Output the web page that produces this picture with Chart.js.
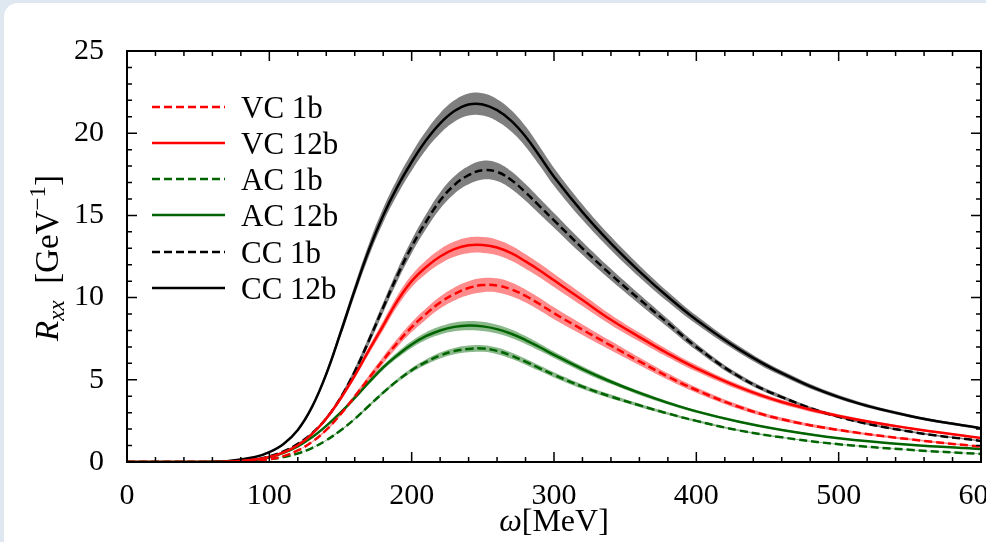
<!DOCTYPE html>
<html>
<head>
<meta charset="utf-8">
<script src="https://cdn.jsdelivr.net/npm/chart.js@4.4.1/dist/chart.umd.min.js"></script>
<style>
  html, body { margin: 0; padding: 0; background: #dfe7f1; overflow: hidden; }
  #panel { position: absolute; left: 4px; top: 3px; width: 1000px; height: 560px; background: #fff; border-radius: 14px; }
  #myChart { position: absolute; left: 0; top: 0; }
</style>
</head>
<body>
<div id="panel"></div>
<canvas id="myChart" width="986" height="542"></canvas>
<script>
// omega grid [MeV]
const omega = [0, 40, 70, 90, 100, 110, 120, 130, 140, 150, 160, 170, 180, 190, 200, 210, 220, 230, 240, 250, 260, 270, 280, 290, 300, 320, 340, 360, 380, 400, 430, 460, 500, 550, 600];

const vc1b = [0, 0, 0.01, 0.08, 0.17, 0.36, 0.7, 1.22, 1.95, 2.9, 3.98, 5.1, 6.2, 7.25, 8.2, 9.0, 9.7, 10.22, 10.58, 10.76, 10.74, 10.5, 10.1, 9.6, 9.05, 8.05, 7.08, 6.12, 5.2, 4.38, 3.35, 2.6, 1.95, 1.38, 0.93];
const vc12b = [0, 0, 0.02, 0.15, 0.3, 0.58, 1.02, 1.7, 2.65, 3.85, 5.25, 6.8, 8.3, 9.8, 11.0, 11.85, 12.5, 12.95, 13.18, 13.2, 13.05, 12.7, 12.2, 11.65, 11.05, 9.85, 8.65, 7.6, 6.6, 5.7, 4.55, 3.65, 2.8, 2.05, 1.46];
const ac1b = [0, 0, 0.01, 0.07, 0.16, 0.3, 0.52, 0.85, 1.32, 1.92, 2.62, 3.42, 4.22, 4.95, 5.58, 6.08, 6.48, 6.75, 6.88, 6.9, 6.76, 6.47, 6.1, 5.7, 5.3, 4.58, 3.98, 3.45, 2.95, 2.5, 1.92, 1.5, 1.08, 0.74, 0.49];
const ac12b = [0, 0, 0.01, 0.12, 0.28, 0.55, 0.95, 1.5, 2.2, 3.0, 3.9, 4.85, 5.75, 6.5, 7.15, 7.65, 8.0, 8.22, 8.3, 8.25, 8.08, 7.8, 7.42, 6.98, 6.52, 5.65, 4.88, 4.2, 3.6, 3.08, 2.45, 1.95, 1.45, 1.05, 0.79];
const cc1b = [0, 0, 0.02, 0.15, 0.35, 0.65, 1.1, 1.75, 2.65, 3.9, 5.5, 7.4, 9.4, 11.35, 13.1, 14.6, 15.9, 16.85, 17.45, 17.75, 17.65, 17.15, 16.4, 15.55, 14.7, 13.0, 11.4, 9.9, 8.45, 7.0, 5.2, 3.95, 2.75, 1.85, 1.28];
const cc12b = [0, 0, 0.05, 0.3, 0.6, 1.1, 1.95, 3.35, 5.35, 7.85, 10.45, 12.9, 15.0, 16.75, 18.25, 19.55, 20.6, 21.35, 21.75, 21.75, 21.4, 20.75, 19.8, 18.6, 17.35, 15.2, 13.3, 11.6, 10.05, 8.65, 6.85, 5.4, 3.95, 2.8, 2.05];

// half widths of the uncertainty bands
const vc1bErr = [0, 0, 0, 0, 0.01, 0.01, 0.02, 0.04, 0.07, 0.1, 0.14, 0.18, 0.22, 0.26, 0.3, 0.34, 0.37, 0.4, 0.42, 0.43, 0.43, 0.42, 0.4, 0.38, 0.36, 0.32, 0.28, 0.24, 0.2, 0.17, 0.13, 0.1, 0.08, 0.06, 0.04];
const vc12bErr = [0, 0, 0, 0.01, 0.01, 0.02, 0.04, 0.06, 0.09, 0.13, 0.17, 0.22, 0.28, 0.33, 0.37, 0.41, 0.44, 0.46, 0.48, 0.48, 0.47, 0.46, 0.44, 0.42, 0.4, 0.36, 0.31, 0.27, 0.23, 0.2, 0.16, 0.13, 0.1, 0.07, 0.05];
const ac1bErr = [0, 0, 0, 0, 0, 0.01, 0.01, 0.02, 0.03, 0.04, 0.06, 0.08, 0.1, 0.12, 0.14, 0.16, 0.18, 0.19, 0.2, 0.2, 0.2, 0.19, 0.18, 0.17, 0.16, 0.14, 0.12, 0.1, 0.08, 0.07, 0.05, 0.04, 0.03, 0.02, 0.02];
const ac12bErr = [0, 0, 0, 0, 0.01, 0.01, 0.02, 0.03, 0.05, 0.07, 0.09, 0.12, 0.15, 0.18, 0.21, 0.23, 0.25, 0.27, 0.28, 0.28, 0.27, 0.26, 0.24, 0.22, 0.2, 0.17, 0.14, 0.12, 0.1, 0.08, 0.06, 0.05, 0.04, 0.03, 0.02];
const cc1bErr = [0, 0, 0, 0.01, 0.01, 0.02, 0.04, 0.07, 0.11, 0.15, 0.2, 0.25, 0.3, 0.35, 0.4, 0.45, 0.5, 0.53, 0.56, 0.57, 0.56, 0.54, 0.51, 0.48, 0.45, 0.4, 0.35, 0.3, 0.25, 0.2, 0.15, 0.11, 0.08, 0.06, 0.04];
const cc12bErr = [0, 0, 0, 0.01, 0.03, 0.05, 0.08, 0.12, 0.18, 0.25, 0.32, 0.38, 0.43, 0.48, 0.53, 0.57, 0.62, 0.65, 0.67, 0.68, 0.67, 0.65, 0.62, 0.58, 0.54, 0.47, 0.41, 0.36, 0.31, 0.26, 0.2, 0.16, 0.12, 0.09, 0.07];

const xTickValues = [0, 100, 200, 300, 400, 500, 600];
const yTickValues = [0, 5, 10, 15, 20, 25];

const serif = "'Liberation Serif', 'DejaVu Serif', serif";

const series = [
  { label: "VC 1b", data: vc1b, err: vc1bErr, color: "#ff0000", band: "rgba(255,0,0,0.45)", dashed: true },
  { label: "VC 12b", data: vc12b, err: vc12bErr, color: "#ff0000", band: "rgba(255,0,0,0.45)", dashed: false },
  { label: "AC 1b", data: ac1b, err: ac1bErr, color: "#006400", band: "rgba(0,100,0,0.45)", dashed: true },
  { label: "AC 12b", data: ac12b, err: ac12bErr, color: "#006400", band: "rgba(0,100,0,0.45)", dashed: false },
  { label: "CC 1b", data: cc1b, err: cc1bErr, color: "#000000", band: "rgba(0,0,0,0.5)", dashed: true },
  { label: "CC 12b", data: cc12b, err: cc12bErr, color: "#000000", band: "rgba(0,0,0,0.5)", dashed: false },
];

const pts = (arr) => omega.map((x, i) => ({ x: x, y: arr[i] }));

let datasets = [];
// lines first (drawn on top)
series.forEach((s) => {
  datasets.push({
    label: s.label,
    data: pts(s.data),
    borderColor: s.color,
    borderWidth: 2.5,
    borderDash: s.dashed ? [8, 4] : [],
    pointRadius: 0,
    fill: false,
    tension: 0.4,
    isLine: true,
  });
});
// bands: lower then upper filled to lower
series.forEach((s) => {
  datasets.push({
    label: s.label + " lo",
    data: omega.map((x, i) => ({ x: x, y: s.data[i] - s.err[i] })),
    borderWidth: 0,
    pointRadius: 0,
    fill: false,
    tension: 0.4,
  });
  datasets.push({
    label: s.label + " hi",
    data: omega.map((x, i) => ({ x: x, y: s.data[i] + s.err[i] })),
    borderWidth: 0,
    pointRadius: 0,
    backgroundColor: s.band,
    fill: "-1",
    tension: 0.4,
  });
});

const framePlugin = {
  id: "frame",
  afterDraw(chart) {
    const ctx = chart.ctx;
    const a = chart.chartArea;
    const xs = chart.scales.x;
    const ys = chart.scales.y;
    ctx.save();
    ctx.strokeStyle = "#000";
    ctx.lineWidth = 2;
    ctx.strokeRect(a.left, a.top, a.right - a.left, a.bottom - a.top);

    // inward ticks on all four sides
    ctx.lineWidth = 1.5;
    ctx.beginPath();
    for (let v = 0; v <= 600; v += 20) {
      const px = xs.getPixelForValue(v);
      const len = v % 100 === 0 ? 10 : 5;
      ctx.moveTo(px, a.bottom);
      ctx.lineTo(px, a.bottom - len);
      ctx.moveTo(px, a.top);
      ctx.lineTo(px, a.top + len);
    }
    for (let v = 0; v <= 25; v += 1) {
      const py = ys.getPixelForValue(v);
      const len = v % 5 === 0 ? 10 : 5;
      ctx.moveTo(a.left, py);
      ctx.lineTo(a.left + len, py);
      ctx.moveTo(a.right, py);
      ctx.lineTo(a.right - len, py);
    }
    ctx.stroke();

    // legend
    const rowY = [107, 143, 179, 215, 252, 288];
    chart.data.datasets.filter((d) => d.isLine).forEach((d, i) => {
      const y = rowY[i];
      ctx.strokeStyle = d.borderColor;
      ctx.lineWidth = 2.5;
      ctx.setLineDash(d.borderDash);
      ctx.beginPath();
      ctx.moveTo(152, y);
      ctx.lineTo(225, y);
      ctx.stroke();
      ctx.setLineDash([]);
      ctx.fillStyle = "#000";
      ctx.font = "31px " + serif;
      ctx.textBaseline = "alphabetic";
      ctx.textAlign = "left";
      ctx.fillText(d.label, 241, y + 11);
    });

    // y title: R_xx [GeV^-1]
    ctx.save();
    ctx.translate(58, 258);
    ctx.rotate(-Math.PI / 2);
    const parts = [
      { t: "R", f: "italic 33px " + serif, dy: 0 },
      { t: "xx", f: "italic 23px " + serif, dy: 6 },
      { t: "  [GeV", f: "33px " + serif, dy: 0 },
      { t: "\u22121", f: "23px " + serif, dy: -13 },
      { t: "]", f: "33px " + serif, dy: 0 },
    ];
    let total = 0;
    parts.forEach((p) => { ctx.font = p.f; p.w = ctx.measureText(p.t).width; total += p.w; });
    let cx = -total / 2;
    ctx.fillStyle = "#000";
    ctx.textBaseline = "alphabetic";
    ctx.textAlign = "left";
    parts.forEach((p) => { ctx.font = p.f; ctx.fillText(p.t, cx, p.dy); cx += p.w; });
    ctx.restore();

    // x title: omega[MeV]
    const xp = [
      { t: "\u03c9", f: "italic 32px " + serif },
      { t: "[MeV]", f: "32px " + serif },
    ];
    let tw = 0;
    xp.forEach((p) => { ctx.font = p.f; p.w = ctx.measureText(p.t).width; tw += p.w; });
    let sx = (a.left + a.right) / 2 - tw / 2;
    xp.forEach((p) => { ctx.font = p.f; ctx.fillText(p.t, sx, 531); sx += p.w; });
    ctx.restore();
  },
};

new Chart(document.getElementById("myChart"), {
  type: "line",
  data: { datasets: datasets },
  options: {
    responsive: false,
    animation: false,
    devicePixelRatio: 1,
    layout: { padding: { top: 51, right: 5, left: 0, bottom: 0 } },
    plugins: {
      legend: { display: false },
      tooltip: { enabled: false },
      filler: { drawTime: "beforeDatasetsDraw" },
    },
    scales: {
      x: {
        type: "linear",
        min: 0,
        max: 600,
        grid: { display: false },
        border: { display: false },
        afterBuildTicks(s) { s.ticks = xTickValues.map((v) => ({ value: v })); },
        afterFit(s) { s.height = 80; s.paddingLeft = 0; s.paddingRight = 0; },
        ticks: {
          color: "#000",
          padding: 8,
          maxRotation: 0,
          autoSkip: false,
          font: { family: serif, size: 30 },
        },
      },
      y: {
        min: 0,
        max: 25,
        grid: { display: false },
        border: { display: false },
        afterBuildTicks(s) { s.ticks = yTickValues.map((v) => ({ value: v })); },
        afterFit(s) { s.width = 127; s.paddingTop = 0; s.paddingBottom = 0; },
        ticks: {
          color: "#000",
          padding: 15,
          font: { family: serif, size: 30 },
        },
      },
    },
  },
  plugins: [framePlugin],
});
</script>
</body>
</html>
